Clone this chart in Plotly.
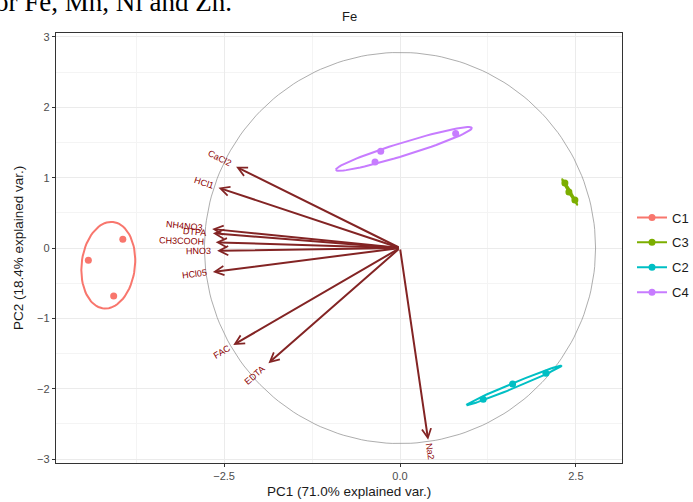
import numpy as np
import plotly.graph_objects as go

# ---------------- data ----------------
groups = ["C1", "C3", "C2", "C4"]
group_colors = ["#F8766D", "#7CAE00", "#00BFC4", "#C77CFF"]

pc1_c1 = [-3.94, -4.43, -4.07]
pc2_c1 = [0.124, -0.175, -0.683]
pc1_c3 = [2.344, 2.401, 2.486]
pc2_c3 = [0.923, 0.795, 0.682]
pc1_c2 = [1.183, 1.601, 2.074]
pc2_c2 = [-2.149, -1.932, -1.780]
pc1_c4 = [-0.274, -0.355, 0.791]
pc2_c4 = [1.374, 1.222, 1.629]

var_names = ["CaCl2", "HCl1", "NH4NO3", "DTPA", "CH3COOH", "HNO3", "HCl05", "FAC", "EDTA", "Na2"]
var_pc1 = [-2.33, -2.58, -2.67, -2.66, -2.62, -2.60, -2.66, -2.37, -1.87, 0.40]
var_pc2 = [1.155, 0.857, 0.27, 0.21, 0.08, -0.04, -0.34, -1.378, -1.638, -2.727]

circle_radius = 2.78
ellipse_prob = 0.68

x_ticks = [-2.5, 0.0, 2.5]
x_tick_labels = ["\u22122.5", "0.0", "2.5"]
y_ticks = [-3, -2, -1, 0, 1, 2, 3]
y_tick_labels = ["\u22123", "\u22122", "\u22121", "0", "1", "2", "3"]

title_text = "Fe"
x_title = "PC1 (71.0% explained var.)"
y_title = "PC2 (18.4% explained var.)"
caption_text = "for Fe, Mn, Ni and Zn."

group_pc1 = [pc1_c1, pc1_c3, pc1_c2, pc1_c4]
group_pc2 = [pc2_c1, pc2_c3, pc2_c2, pc2_c4]

# ---------------- layout geometry ----------------
W, H = 693, 502
ML, MR, MT, MB = 56, 71, 33, 39
PPU = 70.35  # pixels per unit (equal scaling)
x_range = [-(400 - ML) / PPU, (W - MR - 400) / PPU]
y_range = [-(H - MB - 248) / PPU, (248 - MT) / PPU]
PW, PH = W - ML - MR, H - MT - MB


def px_to_paper_x(p):
    return (p - ML) / PW


def px_to_paper_y(p):
    return (H - MB - p) / PH


FONT = "Liberation Sans, Arial, Helvetica, sans-serif"
fig = go.Figure()

# correlation circle
th = np.linspace(0, 2 * np.pi, 200)
fig.add_trace(go.Scatter(x=circle_radius * np.cos(th), y=circle_radius * np.sin(th),
                         mode="lines", line=dict(color="#8A8A8A", width=0.7),
                         hoverinfo="skip", showlegend=False))

# ellipses and points
ed = np.sqrt(-2 * np.log(1 - ellipse_prob))
theta = np.linspace(-np.pi, np.pi, 80)
circ = np.column_stack([np.cos(theta), np.sin(theta)])
for g, col, xs, ys in zip(groups, group_colors, group_pc1, group_pc2):
    pts = np.column_stack([xs, ys])
    mu = pts.mean(axis=0)
    sigma = np.cov(pts.T)
    R = np.linalg.cholesky(sigma).T
    ell = circ @ R * ed + mu
    fig.add_trace(go.Scatter(x=ell[:, 0], y=ell[:, 1], mode="lines",
                             line=dict(color=col, width=2), showlegend=False, hoverinfo="skip"))
    fig.add_trace(go.Scatter(x=xs, y=ys, mode="markers",
                             marker=dict(color=col, size=7), showlegend=False))

# legend entries
for g, col in zip(groups, group_colors):
    fig.add_trace(go.Scatter(x=[None], y=[None], mode="lines+markers", name=g, legendgroup=g,
                             line=dict(color=col, width=2), marker=dict(color=col, size=7)))

# arrows + labels
cw = {"C": .722, "a": .556, "l": .222, "2": .556, "H": .722, "1": .556, "N": .722, "4": .556,
      "O": .778, "3": .556, "D": .722, "T": .611, "P": .667, "A": .667, "0": .556, "5": .556,
      "F": .611, "E": .667}
label_size = 9
for name, vx, vy in zip(var_names, var_pc1, var_pc2):
    fig.add_annotation(x=vx, y=vy, ax=0, ay=0, xref="x", yref="y", axref="x", ayref="y",
                       text="", showarrow=True, arrowhead=5, arrowsize=0.9, arrowwidth=2,
                       arrowcolor="#832424", standoff=0)
    w = sum(cw.get(c, .556) for c in name) * label_size
    L = np.hypot(vx, vy)
    ux, uy = vx / L, vy / L
    ang = np.degrees(np.arctan(vy / vx))
    off = 0.75 * w
    fig.add_annotation(x=vx, y=vy, xref="x", yref="y", text=name, showarrow=False,
                       textangle=-ang, xshift=ux * off, yshift=uy * off,
                       xanchor="center", yanchor="middle",
                       font=dict(family=FONT, size=label_size, color="#8B0000"))

# titles
fig.add_annotation(x=px_to_paper_x(349), y=px_to_paper_y(17), xref="paper", yref="paper",
                   xanchor="center", yanchor="middle",
                   text=title_text, showarrow=False, font=dict(family=FONT, size=13, color="#1A1A1A"))
fig.add_annotation(x=px_to_paper_x(349), y=px_to_paper_y(491), xref="paper", yref="paper",
                   xanchor="center", yanchor="middle",
                   text=x_title, showarrow=False, font=dict(family=FONT, size=13.5, color="#1A1A1A"))
fig.add_annotation(x=px_to_paper_x(18), y=px_to_paper_y(248), xref="paper", yref="paper",
                   xanchor="center", yanchor="middle",
                   text=y_title, showarrow=False, textangle=-90,
                   font=dict(family=FONT, size=13.5, color="#1A1A1A"))
fig.add_annotation(x=px_to_paper_x(234), y=px_to_paper_y(2), xref="paper", yref="paper",
                   xanchor="right", yanchor="middle", text=caption_text, showarrow=False,
                   font=dict(family="Liberation Serif, Times New Roman, serif", size=27, color="#000000"))

axis_common = dict(showline=True, mirror=True, linecolor="#333333", linewidth=1.4,
                   ticks="outside", ticklen=3, tickcolor="#333333", tickwidth=1,
                   tickfont=dict(family=FONT, size=11, color="#4D4D4D"),
                   showgrid=True, gridcolor="#EBEBEB", gridwidth=1.2, zeroline=False)

fig.update_layout(
    width=W, height=H, margin=dict(l=ML, r=MR, t=MT, b=MB, autoexpand=False),
    plot_bgcolor="white", paper_bgcolor="white",
    xaxis=dict(range=x_range, tickvals=x_ticks, ticktext=x_tick_labels,
               minor=dict(tick0=0, dtick=1.25, showgrid=True, gridcolor="#F4F4F4", gridwidth=0.6),
               **axis_common),
    yaxis=dict(range=y_range, tickvals=y_ticks, ticktext=y_tick_labels,
               minor=dict(tick0=0.5, dtick=1, showgrid=True, gridcolor="#F4F4F4", gridwidth=0.6),
               **axis_common),
    showlegend=True,
    legend=dict(x=px_to_paper_x(632), y=px_to_paper_y(255), xanchor="left", yanchor="middle",
                font=dict(family=FONT, size=13, color="#1A1A1A"), tracegroupgap=5,
                bgcolor="rgba(0,0,0,0)", itemwidth=30),
)

fig.write_html("out.html")
